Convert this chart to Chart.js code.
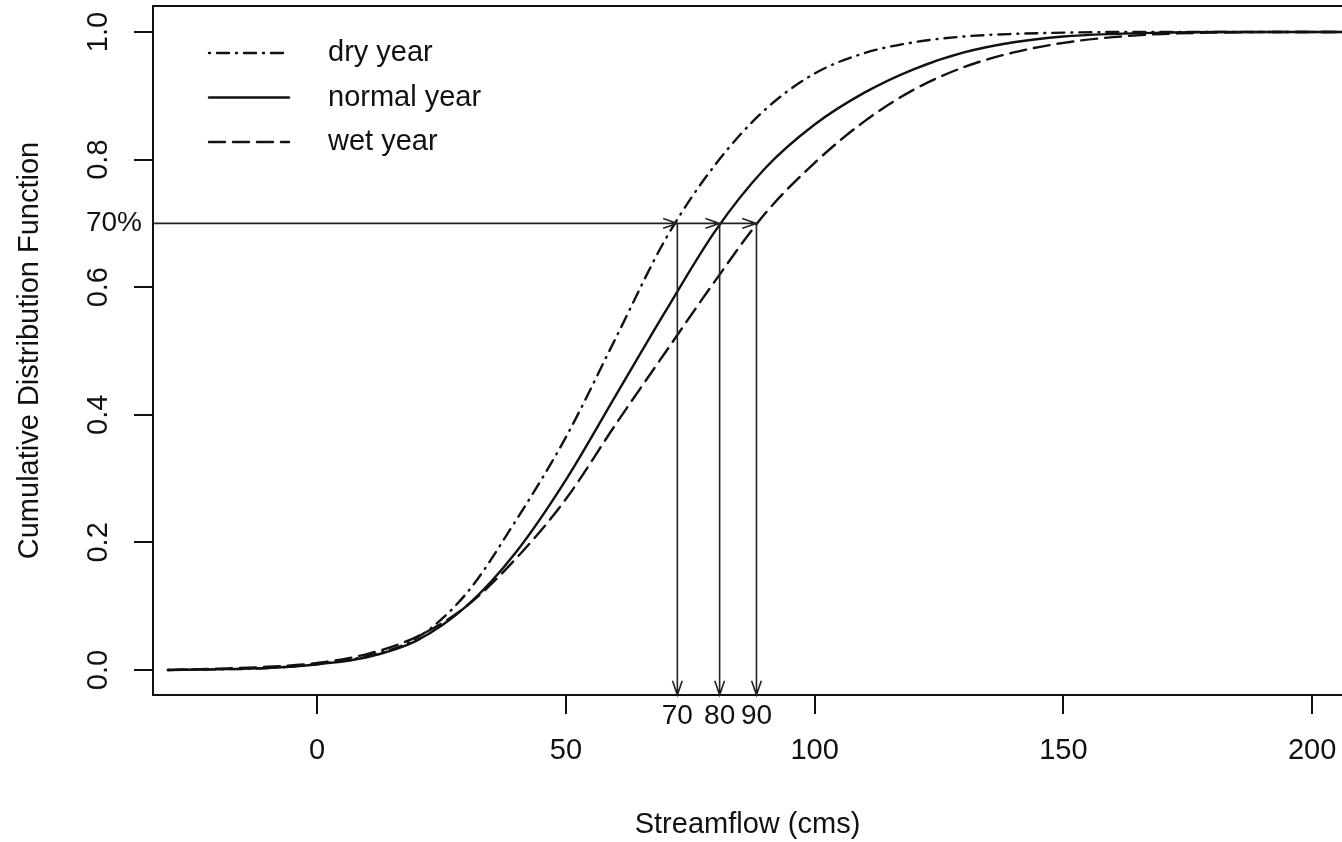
<!DOCTYPE html>
<html>
<head>
<meta charset="utf-8">
<script src="https://cdn.jsdelivr.net/npm/chart.js@4.4.1/dist/chart.umd.min.js"></script>
<style>
  html, body { margin: 0; padding: 0; background: #fff; overflow: hidden; }
</style>
</head>
<body>
<canvas id="cdfChart" width="1342" height="842"></canvas>
<script>
// values
const flow = [-30, -20, -10, 0, 10, 20, 30, 40, 50, 60, 70, 80, 90, 100, 110, 120, 130, 140, 150, 160, 170, 180, 190, 200, 210];
const dryYear    = [0.000, 0.001, 0.003, 0.009, 0.022, 0.050, 0.120, 0.235, 0.365, 0.520, 0.675, 0.792, 0.878, 0.935, 0.967, 0.984, 0.993, 0.997, 0.999, 1.000, 1.000, 1.000, 1.000, 1.000, 1.000];
const normalYear = [0.000, 0.001, 0.003, 0.009, 0.020, 0.046, 0.100, 0.185, 0.298, 0.430, 0.562, 0.688, 0.786, 0.855, 0.905, 0.942, 0.968, 0.984, 0.993, 0.997, 0.999, 1.000, 1.000, 1.000, 1.000];
const wetYear    = [0.000, 0.002, 0.005, 0.011, 0.025, 0.052, 0.100, 0.175, 0.268, 0.385, 0.498, 0.610, 0.715, 0.795, 0.860, 0.910, 0.945, 0.968, 0.983, 0.992, 0.997, 0.999, 1.000, 1.000, 1.000];
const seriesNames = ['dry year', 'normal year', 'wet year'];

const xTicks = [0, 50, 100, 150, 200];
const yTicks = [0, 0.2, 0.4, 0.6, 0.8, 1.0];
const yTickLabels = ['0.0', '0.2', '0.4', '0.6', '0.8', '1.0'];

const level = 0.7;
const levelLabel = '70%';
const crossFlow = [72.4, 80.9, 88.3];
const crossLabels = ['70', '80', '90'];

const FONT = '"Liberation Sans", Arial, Helvetica, sans-serif';
const INK = '#111';
const dashes = [[1, 7, 12, 7], [], [16, 8]];
const seriesValues = [dryYear, normalYear, wetYear];

function arrow(ctx, x0, y0, x1, y1) {
    const ang = Math.atan2(y1 - y0, x1 - x0);
    const len = 15, spread = 0.33;
    ctx.beginPath();
    ctx.moveTo(x0, y0);
    ctx.lineTo(x1, y1);
    ctx.moveTo(x1 - len * Math.cos(ang - spread), y1 - len * Math.sin(ang - spread));
    ctx.lineTo(x1, y1);
    ctx.lineTo(x1 - len * Math.cos(ang + spread), y1 - len * Math.sin(ang + spread));
    ctx.stroke();
}

// top frame edge, the 70% arrows, their labels and the legend
const annotate = {
    id: 'annotate',
    afterDatasetsDraw(chart) {
        const { ctx, chartArea: area, scales: { x, y } } = chart;
        ctx.save();
        ctx.strokeStyle = INK;
        ctx.lineWidth = 2;
        ctx.beginPath();
        ctx.moveTo(area.left - 1, area.top);
        ctx.lineTo(area.right, area.top);
        ctx.stroke();

        const yl = y.getPixelForValue(level);
        const xs = crossFlow.map(v => x.getPixelForValue(v));
        ctx.lineWidth = 1.6;
        ctx.strokeStyle = '#222';
        let from = area.left;
        xs.forEach(px => { arrow(ctx, from, yl, px, yl); from = px; });
        xs.forEach(px => arrow(ctx, px, yl, px, area.bottom));

        ctx.fillStyle = INK;
        ctx.font = '28px ' + FONT;
        ctx.textBaseline = 'middle';
        ctx.textAlign = 'center';
        xs.forEach((px, i) => ctx.fillText(crossLabels[i], px, area.bottom + 21));
        ctx.textAlign = 'right';
        ctx.fillText(levelLabel, area.left - 11, yl);

        // legend
        ctx.font = '29px ' + FONT;
        ctx.textAlign = 'left';
        chart.data.datasets.forEach((ds, i) => {
            const ry = area.top + 47 + i * 44.5;
            ctx.lineWidth = ds.borderWidth;
            ctx.lineCap = 'round';
            ctx.strokeStyle = ds.borderColor;
            ctx.setLineDash(ds.borderDash);
            ctx.beginPath();
            ctx.moveTo(area.left + 56, ry);
            ctx.lineTo(area.left + 136, ry);
            ctx.stroke();
            ctx.setLineDash([]);
            ctx.fillText(ds.label, area.left + 175, ry);
        });
        ctx.restore();
    }
};

new Chart(document.getElementById('cdfChart'), {
    type: 'line',
    data: {
        datasets: seriesNames.map((name, i) => ({
            label: name,
            data: flow.map((f, k) => ({ x: f, y: seriesValues[i][k] })),
            borderColor: INK,
            borderWidth: 2.4,
            borderDash: dashes[i],
            borderCapStyle: 'round',
            pointRadius: 0,
            cubicInterpolationMode: 'monotone',
            fill: false
        }))
    },
    options: {
        responsive: false,
        animation: false,
        events: [],
        layout: { padding: { top: 6, left: 0, right: 0, bottom: 0 } },
        plugins: { legend: { display: false }, tooltip: { enabled: false } },
        scales: {
            x: {
                type: 'linear',
                min: -33,
                max: 206,
                afterBuildTicks: s => { s.ticks = xTicks.map(v => ({ value: v })); },
                afterFit: s => { s.height = 147; s.paddingLeft = 0; s.paddingRight = 0; },
                ticks: {
                    color: INK,
                    font: { family: FONT, size: 29 },
                    padding: 20,
                    maxRotation: 0,
                    callback: v => String(v)
                },
                grid: { drawOnChartArea: false, tickLength: 19, color: INK, lineWidth: 2 },
                border: { display: true, color: INK, width: 2 },
                title: {
                    display: true,
                    text: 'Streamflow (cms)',
                    color: INK,
                    font: { family: FONT, size: 29 },
                    padding: { top: 0, bottom: 0 }
                }
            },
            y: {
                type: 'linear',
                min: -0.0392,
                max: 1.0408,
                afterBuildTicks: s => { s.ticks = yTicks.map(v => ({ value: v })); },
                afterFit: s => { s.width = 153; s.paddingTop = 0; s.paddingBottom = 0; },
                ticks: {
                    color: INK,
                    font: { family: FONT, size: 29 },
                    minRotation: 90,
                    maxRotation: 90,
                    crossAlign: 'center',
                    padding: 15,
                    callback: (v, i) => yTickLabels[i]
                },
                grid: { drawOnChartArea: false, tickLength: 19, color: INK, lineWidth: 2 },
                border: { display: true, color: INK, width: 2 },
                title: {
                    display: true,
                    text: 'Cumulative Distribution Function',
                    color: INK,
                    font: { family: FONT, size: 29 },
                    padding: { top: 13, bottom: 0 }
                }
            }
        }
    },
    plugins: [annotate]
});
</script>
</body>
</html>
